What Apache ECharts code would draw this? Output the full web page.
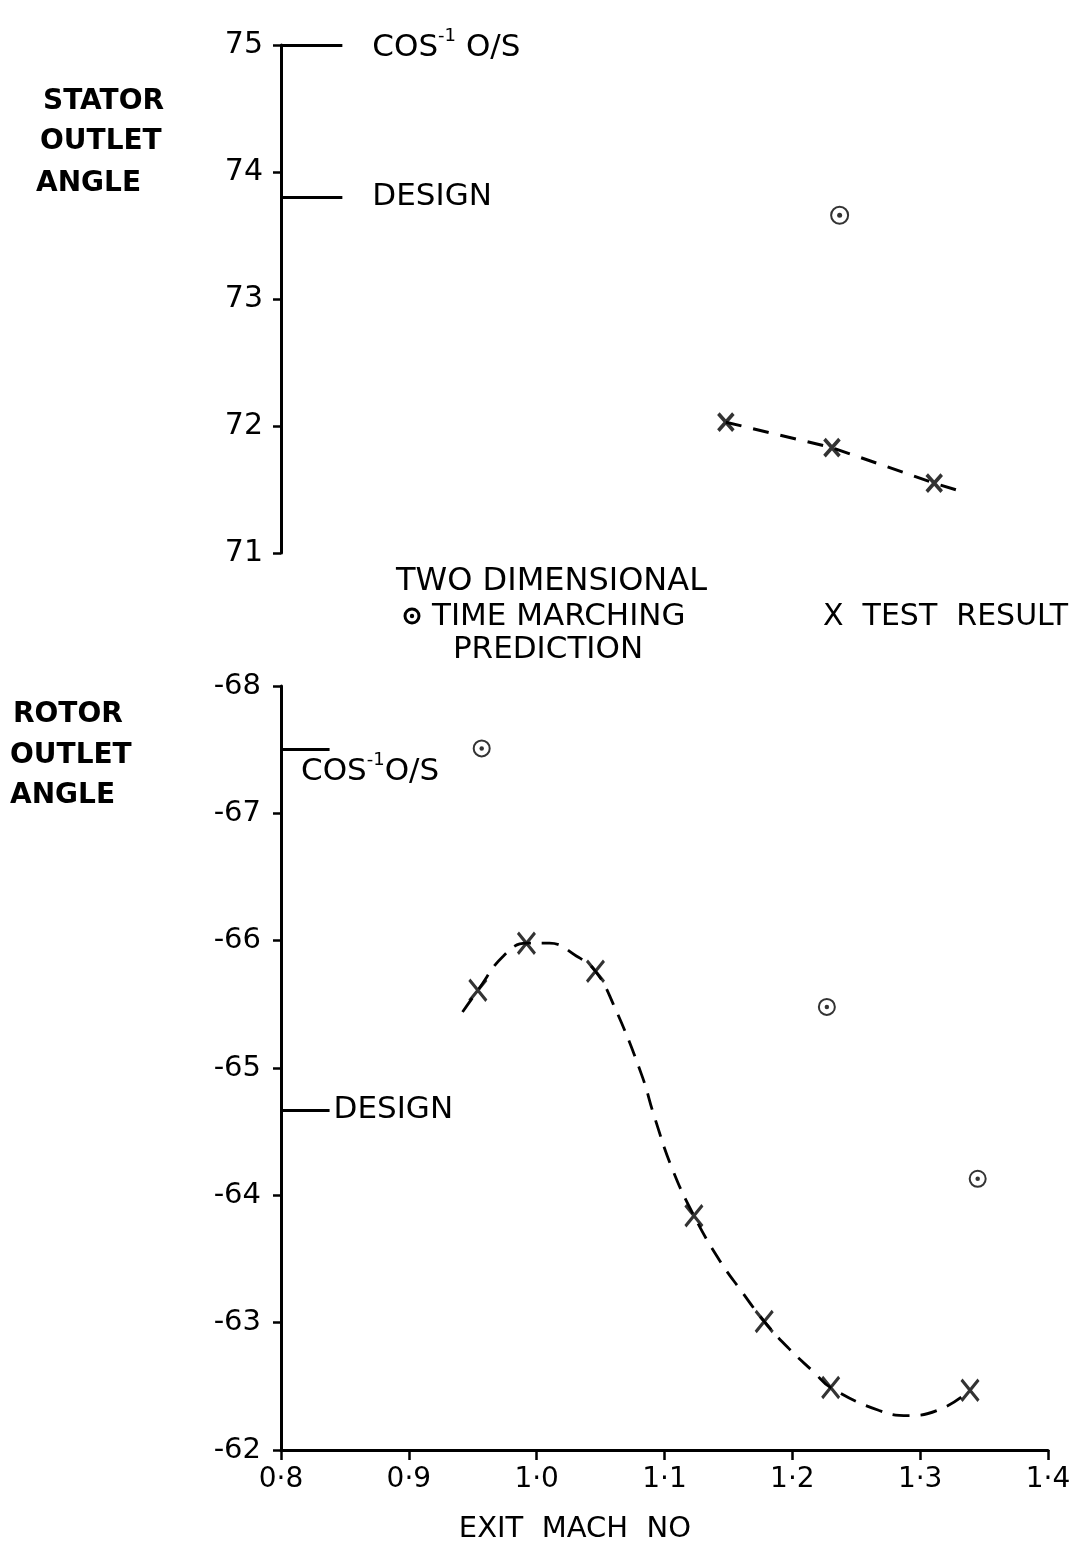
<!DOCTYPE html>
<html>
<head>
<meta charset="utf-8">
<script src="https://cdn.jsdelivr.net/npm/echarts@6/dist/echarts.min.js"></script>
<style>
html,body{margin:0;padding:0;background:#fff}
#c{width:1075px;height:1551px}
</style>
</head>
<body>
<div id="c"></div>
<script>
// ---------------- DATA ----------------
const xTicks = [0.8, 0.9, 1.0, 1.1, 1.2, 1.3, 1.4];
const statorTicks = [71, 72, 73, 74, 75];
const rotorTicks = [-68, -67, -66, -65, -64, -63, -62];

// Stator outlet angle
const statorPredX = [1.237];
const statorPredY = [73.66];
const statorTestX = [1.148, 1.231, 1.311];
const statorTestY = [72.03, 71.83, 71.55];
const statorFairX = [1.148, 1.231, 1.311, 1.334];
const statorFairY = [72.03, 71.83, 71.55, 71.48];
const statorRefValues = [75.0, 73.8];
const statorRefNames = ['COS-1 O/S', 'DESIGN'];

// Rotor outlet angle
const rotorPredX = [0.957, 1.227, 1.345];
const rotorPredY = [-67.51, -65.48, -64.13];
const rotorTestX = [0.954, 0.992, 1.046, 1.123, 1.178, 1.230, 1.339];
const rotorTestY = [-65.61, -65.98, -65.76, -63.84, -63.01, -62.49, -62.47];
const rotorFairX = [0.942, 0.954, 0.974, 0.992, 1.010, 1.031, 1.046, 1.060, 1.082, 1.092, 1.106, 1.123, 1.143, 1.160, 1.178, 1.197, 1.217, 1.230, 1.268, 1.291, 1.318, 1.339];
const rotorFairY = [-65.44, -65.61, -65.88, -65.98, -65.98, -65.88, -65.76, -65.50, -64.95, -64.62, -64.21, -63.84, -63.49, -63.25, -63.01, -62.80, -62.61, -62.49, -62.31, -62.27, -62.33, -62.47];
const rotorRefValues = [-67.5, -64.67];
const rotorRefNames = ['COS-1 O/S', 'DESIGN'];

// ---------------- CHART ----------------
const FONT = 'DejaVu Sans';
const INK = '#000';
const pairs = (xs, ys) => xs.map((x, i) => [x, ys[i]]);
const crossPath = 'path://M0,0L10,12M10,0L0,12';

function refLabel(name, pos, dist, pad) {
  const isCos = name.indexOf('COS') === 0;
  return {
    show: true,
    position: pos,
    distance: dist,
    padding: pad || 0,
    color: INK,
    fontFamily: FONT,
    fontSize: 31,
    formatter: isCos ? (pos === 'end' ? '{a|COS}{s|-1}{a| O/S}' : '{a|COS}{s|-1}{a|O/S}') : name,
    rich: {
      a: {fontFamily: FONT, fontSize: 31, color: INK, lineHeight: 36, verticalAlign: 'bottom'},
      s: {fontFamily: FONT, fontSize: 18, color: INK, lineHeight: 36, verticalAlign: 'top'}
    }
  };
}

function refLines(values, names, labelSpecs, endX) {
  return values.map((v, i) => [
    {coord: [xTicks[0], v], label: refLabel(names[i], labelSpecs[i][0], labelSpecs[i][1], labelSpecs[i][2])},
    {coord: [endX, v]}
  ]);
}

const axisLabelStyle = {color: INK, fontFamily: FONT};

const option = {
  animation: false,
  backgroundColor: '#fff',
  grid: [
    {left: 281, top: 45, width: 767, height: 508},
    {left: 281, top: 686, width: 767, height: 764}
  ],
  xAxis: [
    {gridIndex: 0, type: 'value', min: xTicks[0], max: xTicks[xTicks.length - 1], interval: 0.1, show: false},
    {
      gridIndex: 1, type: 'value', min: xTicks[0], max: xTicks[xTicks.length - 1], interval: 0.1,
      axisLine: {onZero: false, lineStyle: {color: INK, width: 3}},
      axisTick: {show: true, length: 10, inside: false, lineStyle: {color: INK, width: 2.5}},
      axisLabel: Object.assign({fontSize: 28, margin: 16, formatter: v => v.toFixed(1).replace('.', '·')}, axisLabelStyle),
      splitLine: {show: false}
    }
  ],
  yAxis: [
    {
      gridIndex: 0, type: 'value', min: statorTicks[0], max: statorTicks[statorTicks.length - 1], interval: 1,
      axisLine: {show: true, onZero: false, lineStyle: {color: INK, width: 3}},
      axisTick: {show: true, length: 8, lineStyle: {color: INK, width: 2.5}},
      axisLabel: Object.assign({fontSize: 30, margin: 18}, axisLabelStyle),
      splitLine: {show: false}
    },
    {
      gridIndex: 1, type: 'value', inverse: true, min: rotorTicks[0], max: rotorTicks[rotorTicks.length - 1], interval: 1,
      axisLine: {show: true, onZero: false, lineStyle: {color: INK, width: 3}},
      axisTick: {show: true, length: 8, lineStyle: {color: INK, width: 2.5}},
      axisLabel: Object.assign({fontSize: 29, margin: 20}, axisLabelStyle),
      splitLine: {show: false}
    }
  ],
  series: [
    // ---- Stator ----
    {
      type: 'line', xAxisIndex: 0, yAxisIndex: 0, data: pairs(statorFairX, statorFairY),
      symbol: 'none', smooth: false, silent: true,
      lineStyle: {color: INK, width: 3, type: [16, 12]}
    },
    {
      type: 'scatter', xAxisIndex: 0, yAxisIndex: 0, data: pairs(statorTestX, statorTestY),
      symbol: crossPath, symbolSize: [15, 17],
      itemStyle: {color: INK, borderColor: INK, borderWidth: 3.8}
    },
    {
      type: 'scatter', xAxisIndex: 0, yAxisIndex: 0, data: pairs(statorPredX, statorPredY),
      symbol: 'emptyCircle', symbolSize: 17,
      itemStyle: {color: INK, borderColor: INK, borderWidth: 3.4}
    },
    {
      type: 'scatter', xAxisIndex: 0, yAxisIndex: 0, data: pairs(statorPredX, statorPredY),
      symbol: 'circle', symbolSize: 5, itemStyle: {color: INK}
    },
    {
      type: 'line', xAxisIndex: 0, yAxisIndex: 0, data: [], silent: true,
      markLine: {
        silent: true, symbol: ['none', 'none'], animation: false,
        lineStyle: {color: INK, width: 2.8, type: 'solid'},
        data: refLines(statorRefValues, statorRefNames, [['end', 30], ['end', 30]], 0.848)
      }
    },
    // ---- Rotor ----
    {
      type: 'line', xAxisIndex: 1, yAxisIndex: 1, data: pairs(rotorFairX, rotorFairY),
      symbol: 'none', smooth: 0.45, silent: true,
      lineStyle: {color: INK, width: 2.8, type: [17, 11]}
    },
    {
      type: 'scatter', xAxisIndex: 1, yAxisIndex: 1, data: pairs(rotorTestX, rotorTestY),
      symbol: crossPath, symbolSize: [17, 21],
      itemStyle: {color: INK, borderColor: INK, borderWidth: 3.2}
    },
    {
      type: 'scatter', xAxisIndex: 1, yAxisIndex: 1, data: pairs(rotorPredX, rotorPredY),
      symbol: 'emptyCircle', symbolSize: 16,
      itemStyle: {color: INK, borderColor: INK, borderWidth: 3.2}
    },
    {
      type: 'scatter', xAxisIndex: 1, yAxisIndex: 1, data: pairs(rotorPredX, rotorPredY),
      symbol: 'circle', symbolSize: 4.5, itemStyle: {color: INK}
    },
    {
      type: 'line', xAxisIndex: 1, yAxisIndex: 1, data: [], silent: true,
      markLine: {
        silent: true, symbol: ['none', 'none'], animation: false,
        lineStyle: {color: INK, width: 2.8, type: 'solid'},
        data: refLines(rotorRefValues, rotorRefNames, [['insideStartBottom', 2, [0, 0, 0, 18]], ['end', 4]], 0.838)
      }
    }
  ],
  graphic: [
    // side titles
    {type: 'text', left: 43, top: 88, style: {text: 'STATOR', font: 'bold 28px ' + FONT, fill: INK}},
    {type: 'text', left: 40, top: 128, style: {text: 'OUTLET', font: 'bold 28px ' + FONT, fill: INK}},
    {type: 'text', left: 36, top: 170, style: {text: 'ANGLE', font: 'bold 28px ' + FONT, fill: INK}},
    {type: 'text', left: 13, top: 701, style: {text: 'ROTOR', font: 'bold 28px ' + FONT, fill: INK}},
    {type: 'text', left: 10, top: 742, style: {text: 'OUTLET', font: 'bold 28px ' + FONT, fill: INK}},
    {type: 'text', left: 10, top: 782, style: {text: 'ANGLE', font: 'bold 28px ' + FONT, fill: INK}},
    // legend
    {type: 'text', x: 396, y: 582, style: {text: 'TWO DIMENSIONAL', font: '32px ' + FONT, fill: INK, align: 'left', verticalAlign: 'middle'}},
    {type: 'circle', shape: {cx: 412, cy: 616, r: 7}, style: {fill: 'none', stroke: INK, lineWidth: 3}},
    {type: 'circle', shape: {cx: 412, cy: 616, r: 2.2}, style: {fill: INK}},
    {type: 'text', x: 432, y: 617, style: {text: 'TIME MARCHING', font: '31px ' + FONT, fill: INK, align: 'left', verticalAlign: 'middle'}},
    {type: 'text', x: 548, y: 650, style: {text: 'PREDICTION', font: '31px ' + FONT, fill: INK, align: 'center', verticalAlign: 'middle'}},
    {type: 'text', x: 1068, y: 617, style: {text: 'X  TEST  RESULT', font: '30px ' + FONT, fill: INK, align: 'right', verticalAlign: 'middle'}},
    // x axis title
    {type: 'text', x: 575, y: 1529, style: {text: 'EXIT  MACH  NO', font: '29px ' + FONT, fill: INK, align: 'center', verticalAlign: 'middle'}}
  ]
};

const chart = echarts.init(document.getElementById('c'), null, {renderer: 'canvas'});
chart.setOption(option);
</script>
</body>
</html>
